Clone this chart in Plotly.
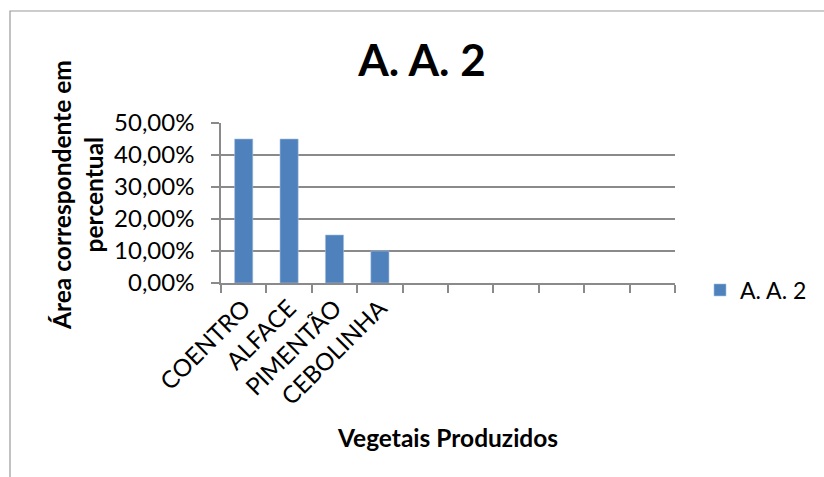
import plotly.graph_objects as go

# Data
categories = ["COENTRO", "ALFACE", "PIMENTÃO", "CEBOLINHA"]
values = [0.45, 0.45, 0.15, 0.10]
blank_slots = 6  # empty category slots after the produced vegetables
series_name = "A. A. 2"
chart_title = "A. A. 2"
x_title = "Vegetais Produzidos"
y_title = "Área correspondente em<br>percentual"
y_ticks = [0, 0.1, 0.2, 0.3, 0.4, 0.5]

# Layout geometry (pixels)
W, H = 824, 477
L, R, T, B = 221, 149, 123, 194
PW, PH = W - L - R, H - T - B


def px_x(p):
    return (p - L) / PW


def px_y(p):
    return (H - B - p) / PH


FONT = "Lato"
GRID = "#8a8a8a"
BAR = "#4f81bd"

slots = categories + [" " * (i + 1) for i in range(blank_slots)]

fig = go.Figure()
fig.add_trace(go.Bar(
    x=categories,
    y=values,
    name=series_name,
    marker=dict(color=BAR, line=dict(color="#a7bfdd", width=0.6)),
    showlegend=True,
))

fig.update_layout(
    width=W,
    height=H,
    margin=dict(l=L, r=R, t=T, b=B, autoexpand=False),
    paper_bgcolor="white",
    plot_bgcolor="white",
    separators=",.",
    bargap=0.6,
    font=dict(family=FONT, color="black"),
    title=dict(
        text="<b>" + chart_title + "</b>",
        font=dict(family=FONT, size=44, color="black"),
        xref="container", x=422 / W, xanchor="center",
        yref="container", y=1 - 61 / H, yanchor="middle",
    ),
    showlegend=True,
    legend=dict(
        x=px_x(700), y=px_y(290), xanchor="left", yanchor="middle",
        font=dict(family=FONT, size=23, color="black"),
        itemwidth=30, bgcolor="rgba(0,0,0,0)",
    ),
    xaxis=dict(
        type="category",
        categoryorder="array",
        categoryarray=slots,
        range=[-0.5, len(slots) - 0.5],
        tickson="boundaries",
        ticks="outside",
        ticklen=8,
        tickwidth=1.5,
        tickcolor=GRID,
        showline=True,
        linecolor=GRID,
        linewidth=1.5,
        showgrid=False,
        tickangle=-45,
        tickfont=dict(family=FONT, size=24, color="black"),
        fixedrange=True,
    ),
    yaxis=dict(
        range=[0, 0.5],
        tickvals=y_ticks,
        tickformat=".2%",
        ticks="outside",
        ticklen=8,
        tickwidth=1.5,
        tickcolor=GRID,
        showline=True,
        linecolor=GRID,
        linewidth=1.5,
        showgrid=True,
        gridcolor=GRID,
        gridwidth=1.5,
        zeroline=False,
        ticklabelstandoff=12,
        tickfont=dict(family=FONT, size=24, color="black"),
        fixedrange=True,
    ),
)

# Axis titles
fig.add_annotation(
    text="<b>" + x_title + "</b>", xref="paper", yref="paper",
    x=px_x(447), y=px_y(437), xanchor="center", yanchor="middle",
    showarrow=False, font=dict(family=FONT, size=24.5, color="black"),
)
fig.add_annotation(
    text="<b>" + y_title + "</b>", xref="paper", yref="paper",
    x=px_x(77), y=px_y(195), xanchor="center", yanchor="middle",
    textangle=-90, showarrow=False,
    font=dict(family=FONT, size=24.5, color="black"),
)

# Chart area border
fig.add_shape(
    type="rect", xref="paper", yref="paper",
    x0=px_x(10), y0=px_y(H + 20), x1=px_x(W + 20), y1=px_y(11),
    line=dict(color="#9a9a9a", width=1.2), fillcolor="rgba(0,0,0,0)",
    layer="below",
)

fig.write_html("out.html")
